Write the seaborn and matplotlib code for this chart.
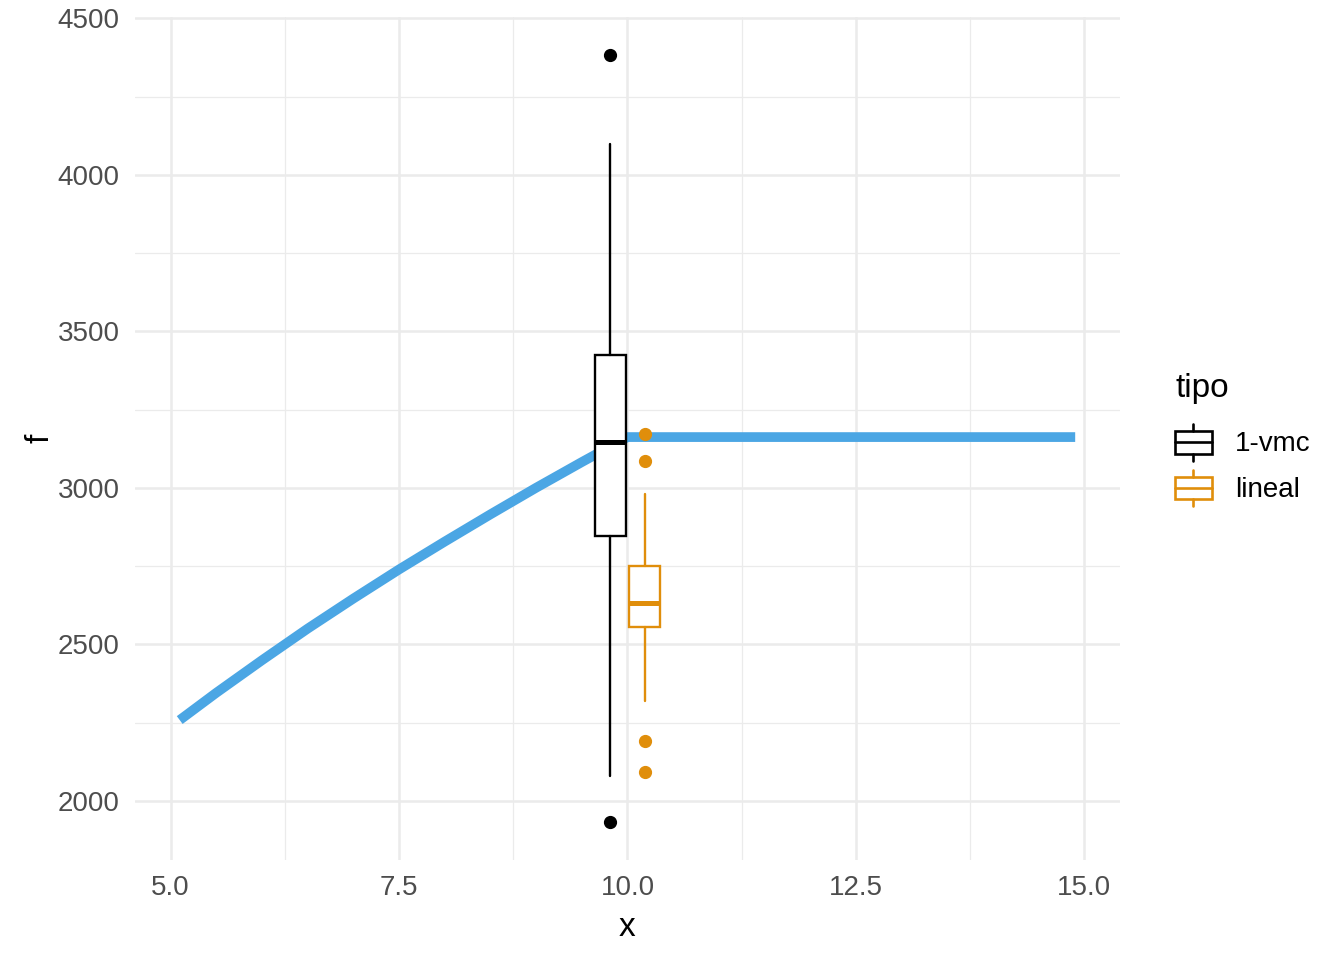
import numpy as np
import pandas as pd
import matplotlib
matplotlib.use("Agg")
import matplotlib.pyplot as plt
import seaborn as sns
from matplotlib.patches import Rectangle
from matplotlib.lines import Line2D
from matplotlib.legend_handler import HandlerBase

# curve f(x)
curve_x = [5.1, 5.5, 6.0, 6.5, 7.0, 7.5, 8.0, 8.5, 9.0, 9.5, 10.0, 14.9]
curve_f = [2258, 2345, 2449, 2550, 2646, 2739, 2828, 2915, 3000, 3082, 3162, 3162]

# boxplot summaries per tipo
tipos = ["1-vmc", "lineal"]
box_pos = [9.8125, 10.1875]
box_q1 = [2846, 2556]
box_med = [3146, 2632]
box_q3 = [3424, 2750]
box_lo = [2078, 2319]
box_hi = [4097, 2980]
box_out = [[4382, 1932], [3172, 3086, 2192, 2092]]

colors = {"1-vmc": "black", "lineal": "#E08E0B"}
line_color = "#4BA6E4"
grid_col = "#EBEBEB"

sns.set_theme(style="white")
plt.rcParams['font.family'] = ['Liberation Sans', 'DejaVu Sans']
plt.rcParams['text.color'] = 'black'
plt.rcParams['axes.labelcolor'] = 'black'

fig = plt.figure(figsize=(13.44, 9.6), dpi=100)
ax = fig.add_axes([0.1004, 0.1042, 0.7329, 0.8781])

df = pd.DataFrame({"x": curve_x, "f": curve_f})
sns.lineplot(data=df, x="x", y="f", color=line_color, lw=7, ax=ax,
             solid_capstyle="butt", zorder=2)

stats = []
for i, t in enumerate(tipos):
    stats.append(dict(med=box_med[i], q1=box_q1[i], q3=box_q3[i],
                      whislo=box_lo[i], whishi=box_hi[i], fliers=box_out[i]))

for i, t in enumerate(tipos):
    c = colors[t]
    ax.bxp([stats[i]], positions=[box_pos[i]], widths=0.345, patch_artist=True,
           showcaps=False, manage_ticks=False, zorder=3,
           boxprops=dict(facecolor="white", edgecolor=c, lw=1.7),
           medianprops=dict(color=c, lw=3.6, solid_capstyle="butt"),
           whiskerprops=dict(color=c, lw=1.7),
           flierprops=dict(marker="o", markerfacecolor=c, markeredgecolor=c,
                           markersize=8.5))

ax.set_xlim(4.61, 15.39)
ax.set_ylim(1811, 4504)
ax.set_xticks([5.0, 7.5, 10.0, 12.5, 15.0])
ax.set_xticklabels(["5.0", "7.5", "10.0", "12.5", "15.0"])
ax.set_yticks([2000, 2500, 3000, 3500, 4000, 4500])
ax.set_xticks([6.25, 8.75, 11.25, 13.75], minor=True)
ax.set_yticks([2250, 2750, 3250, 3750, 4250], minor=True)
ax.grid(which="major", color=grid_col, lw=1.8)
ax.grid(which="minor", color=grid_col, lw=0.9)
ax.set_axisbelow(True)
for s in ax.spines.values():
    s.set_visible(False)
ax.tick_params(which="both", length=0, pad=11, labelsize=20, labelcolor="#4D4D4D")
ax.set_xlabel("x", fontsize=24, labelpad=7.5)
ax.set_ylabel("f", fontsize=24, labelpad=1.5)


class HandlerBox(HandlerBase):
    def create_artists(self, legend, orig_handle, xdescent, ydescent,
                       width, height, fontsize, trans):
        c = orig_handle.get_color()
        cx = -xdescent + width / 2
        cy = -ydescent + height / 2
        bh = 8.2
        wh = 13.3
        rect = Rectangle((-xdescent, cy - bh), width, 2 * bh, facecolor="white",
                         edgecolor=c, lw=1.9, transform=trans)
        med = Line2D([-xdescent, -xdescent + width], [cy, cy], color=c, lw=1.9,
                     transform=trans)
        w1 = Line2D([cx, cx], [cy + bh, cy + wh], color=c, lw=1.9, transform=trans)
        w2 = Line2D([cx, cx], [cy - bh, cy - wh], color=c, lw=1.9, transform=trans)
        return [rect, med, w1, w2]


handles = [Line2D([], [], color=colors[t]) for t in tipos]
leg = fig.legend(handles, tipos, handler_map={Line2D: HandlerBox()},
                 loc="upper left", bbox_to_anchor=(1175 / 1344, 1 - 373 / 960),
                 frameon=False, fontsize=20, title="tipo", title_fontsize=24,
                 alignment="left", borderpad=0, handlelength=1.33,
                 handleheight=2.16, labelspacing=0, handletextpad=0.83,
                 borderaxespad=0)
leg._legend_box.sep = 11

fig.savefig("out.png", dpi=100)
